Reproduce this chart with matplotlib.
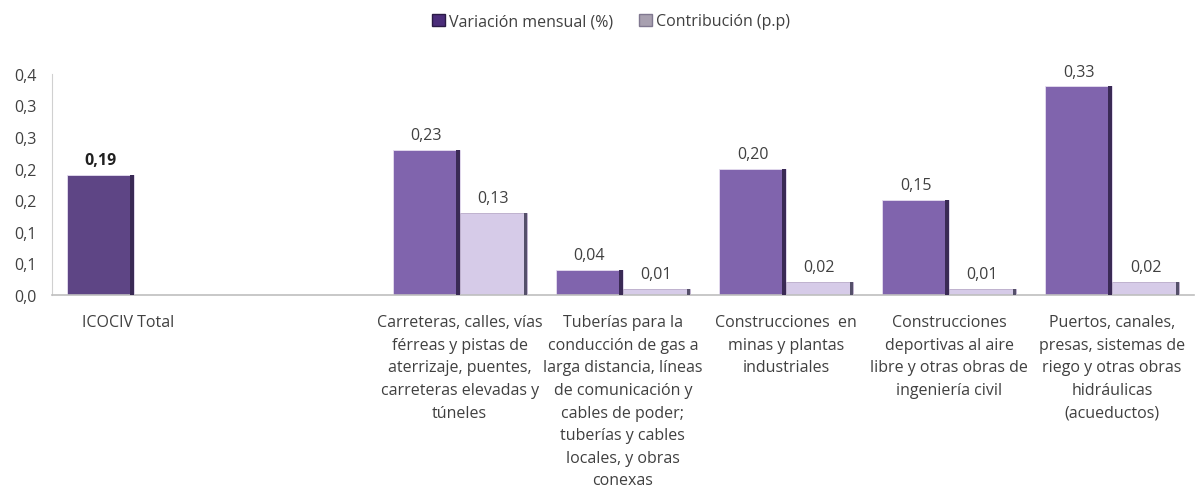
import numpy as np
import matplotlib
matplotlib.use("Agg")
import matplotlib.pyplot as plt
from matplotlib.patches import Patch
from matplotlib.transforms import ScaledTranslation
from decimal import Decimal, ROUND_HALF_UP

plt.rcParams['font.family'] = ['Open Sans', 'DejaVu Sans']

categories = [
    "ICOCIV Total",
    "",
    "Carreteras, calles, vías\nférreas y pistas de\naterrizaje, puentes,\ncarreteras elevadas y\ntúneles",
    "Tuberías para la\nconducción de gas a\nlarga distancia, líneas\nde comunicación y\ncables de poder;\ntuberías y cables\nlocales, y obras\nconexas",
    "Construcciones  en\nminas y plantas\nindustriales",
    "Construcciones\ndeportivas al aire\nlibre y otras obras de\ningeniería civil",
    "Puertos, canales,\npresas, sistemas de\nriego y otras obras\nhidráulicas\n(acueductos)",
]
variacion = [0.19, None, 0.23, 0.04, 0.20, 0.15, 0.33]
contribucion = [None, None, 0.13, 0.01, 0.02, 0.01, 0.02]
yticks = [0, 0.05, 0.10, 0.15, 0.20, 0.25, 0.30, 0.35]

c_total = "#5e4585"
c_var = "#8064ad"
c_con = "#d6cbe8"
c_edge = "#3a2a55"
txt = "#404040"

fig = plt.figure(figsize=(11.98, 4.89), dpi=100)
ax = fig.add_axes([0.0434, 0.395, 0.953, 0.452])

x = np.arange(len(categories))
w = 0.41

def fmt(v):
    return f"{v:.2f}".replace(".", ",")

def fmt1(v):
    d = Decimal(str(v)).quantize(Decimal("0.1"), rounding=ROUND_HALF_UP)
    return str(d).replace(".", ",")

for i in x:
    v = variacion[i]
    if v is not None:
        col = c_total if i == 0 else c_var
        ax.bar(i - w / 2, v, w, color=col, edgecolor="#e6def0", linewidth=0.6, zorder=2)
        ax.bar(i - 0.012, v, 0.024, color=c_edge, zorder=3)
        ax.text(i - w / 2, v + 0.011, fmt(v), ha="center", va="bottom",
                fontsize=11.5, color="#202020" if i == 0 else txt,
                fontweight="bold" if i == 0 else "normal")
    c = contribucion[i]
    if c is not None:
        ax.bar(i + w / 2, c, w, color=c_con, edgecolor="#b8aac8", linewidth=0.6, zorder=2)
        ax.bar(i + w - 0.008, c, 0.016, color="#55506a", zorder=3)
        ax.text(i + w / 2, c + 0.011, fmt(c), ha="center", va="bottom",
                fontsize=11.5, color=txt)

ax.set_xlim(-0.5, len(categories) - 0.5)
ax.set_ylim(0, 0.35)
ax.set_yticks(yticks)
ax.set_yticklabels([fmt1(t) for t in yticks], fontsize=11.5, color=txt)
ax.set_xticks(x)
ax.set_xticklabels(categories, fontsize=11.5, color=txt, linespacing=1.55, va="top")
ax.tick_params(axis="x", length=0, pad=14)
ax.tick_params(axis="y", length=0, pad=11)
first = ax.get_xticklabels()[0]
first.set_transform(first.get_transform() + ScaledTranslation(-0.05, 0, fig.dpi_scale_trans))

for s in ["top", "right"]:
    ax.spines[s].set_visible(False)
ax.spines["left"].set_color("#d0d0d0")
ax.spines["bottom"].set_color("#bfbfbf")
ax.spines["bottom"].set_linewidth(1.2)

handles = [Patch(facecolor="#4b2d7a", edgecolor="#2a1a45", label="Variación mensual (%)"),
           Patch(facecolor="#a8a0b0", edgecolor="#807890", label="Contribución (p.p)")]
fig.legend(handles=handles, loc="upper center", bbox_to_anchor=(0.51, 1.0), ncol=2,
           frameon=False, fontsize=11.5, handlelength=0.8, handleheight=0.8,
           handletextpad=0.25, columnspacing=1.6, labelcolor=txt)

fig.savefig("out.png", dpi=100)
